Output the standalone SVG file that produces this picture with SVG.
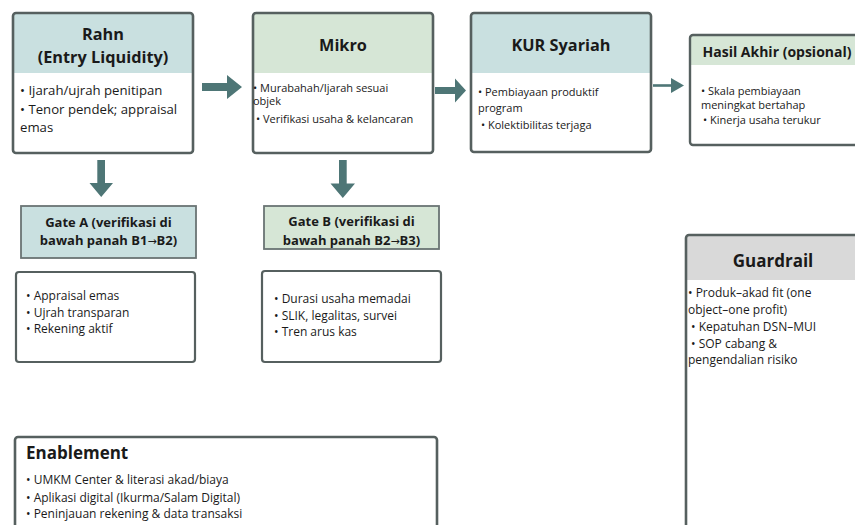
<svg xmlns="http://www.w3.org/2000/svg" width="855" height="525" viewBox="0 0 855 525">
<defs>
<style>
text{font-family:"Open Sans","Noto Sans","Liberation Sans",sans-serif;fill:#1a1a1a}
.box{fill:#ffffff;stroke:#56605f;stroke-width:2.6}
.sbox{fill:#ffffff;stroke:#56605f;stroke-width:2.2}
.hteal{fill:#c9e0e0}
.hgreen{fill:#d6e6d6}
.hgrey{fill:#d9d9d9}
.t{font-weight:bold;font-size:16.3px;text-anchor:middle}
.tl{font-weight:bold;font-size:17px}
.g{font-weight:bold;font-size:13px;text-anchor:middle}
.ar{font-family:"DejaVu Sans",sans-serif;font-weight:normal;font-size:11px}
.b13{font-size:13.2px}
.b12{font-size:12px}
.b11{font-size:11px}
.arr{fill:#4e7676}
</style>
</defs>

<g id="rahn">
<rect x="13" y="13" width="180" height="140" rx="3" class="hteal"/>
<rect x="13" y="73" width="180" height="80" fill="#ffffff"/>
<rect x="13" y="13" width="180" height="140" rx="3" fill="none" stroke="#56605f" stroke-width="2.6"/>
<text class="t" x="103" y="40">Rahn</text>
<text class="t" x="103" y="63">(Entry Liquidity)</text>
<text class="b13" x="20" y="95">• Ijarah/ujrah penitipan</text>
<text class="b13" x="20" y="113.5">• Tenor pendek; appraisal</text>
<text class="b13" x="20" y="132">emas</text>
</g>

<g id="mikro">
<rect x="253" y="13" width="180" height="140" rx="3" class="hgreen"/>
<rect x="253" y="73" width="180" height="80" fill="#ffffff"/>
<rect x="253" y="13" width="180" height="140" rx="3" fill="none" stroke="#56605f" stroke-width="2.6"/>
<text class="t" x="343" y="50.5">Mikro</text>
<text class="b11" x="253" y="91.5">• Murabahah/Ijarah sesuai</text>
<text class="b11" x="253" y="105">objek</text>
<text class="b11" x="256" y="123">• Verifikasi usaha &amp; kelancaran</text>
</g>

<g id="kur">
<rect x="471" y="13" width="180" height="139" rx="3" class="hteal"/>
<rect x="471" y="73" width="180" height="79" fill="#ffffff"/>
<rect x="471" y="13" width="180" height="139" rx="3" fill="none" stroke="#56605f" stroke-width="2.6"/>
<text class="t" x="561" y="50.5">KUR Syariah</text>
<text class="b11" x="478" y="95.5">• Pembiayaan produktif</text>
<text class="b11" x="478" y="111.5">program</text>
<text class="b11" x="481" y="129">• Kolektibilitas terjaga</text>
</g>

<g id="hasil">
<rect x="690" y="35" width="190" height="110" rx="3" class="hgreen"/>
<rect x="690" y="65" width="190" height="80" fill="#ffffff"/>
<rect x="690" y="35" width="190" height="110" rx="3" fill="none" stroke="#56605f" stroke-width="2.4"/>
<text x="777" y="57" font-weight="bold" font-size="14" text-anchor="middle">Hasil Akhir (opsional)</text>
<text class="b11" x="701" y="95">• Skala pembiayaan</text>
<text class="b11" x="701" y="108.5">meningkat bertahap</text>
<text class="b11" x="703" y="123.5">• Kinerja usaha terukur</text>
</g>

<g id="gateA">
<rect x="21" y="206" width="175" height="52" class="hteal" stroke="#6a7474" stroke-width="1.8"/>
<text class="g" x="108.5" y="226.5">Gate A (verifikasi di</text>
<text class="g" x="108.5" y="245">bawah panah B1<tspan class="ar">→</tspan>B2)</text>
</g>

<g id="gateA-list">
<rect x="16" y="272" width="179" height="90" rx="3" class="sbox"/>
<text class="b12" x="26" y="300">• Appraisal emas</text>
<text class="b12" x="26" y="316.7">• Ujrah transparan</text>
<text class="b12" x="26" y="333.3">• Rekening aktif</text>
</g>

<g id="gateB">
<rect x="264" y="206" width="175" height="43" class="hgreen" stroke="#6a7474" stroke-width="1.8"/>
<text class="g" x="351.5" y="226">Gate B (verifikasi di</text>
<text class="g" x="351.5" y="245">bawah panah B2<tspan class="ar">→</tspan>B3)</text>
</g>

<g id="gateB-list">
<rect x="262" y="271" width="179" height="91" rx="3" class="sbox"/>
<text class="b12" x="274" y="302.7">• Durasi usaha memadai</text>
<text class="b12" x="274" y="319.5">• SLIK, legalitas, survei</text>
<text class="b12" x="274" y="336">• Tren arus kas</text>
</g>

<g id="guardrail">
<rect x="686" y="235" width="176" height="310" rx="3" class="hgrey"/>
<rect x="686" y="280" width="176" height="265" fill="#ffffff"/>
<rect x="686" y="235" width="176" height="310" rx="3" fill="none" stroke="#56605f" stroke-width="2.6"/>
<text x="773" y="266.7" font-weight="bold" font-size="17" text-anchor="middle">Guardrail</text>
<text class="b12" x="688" y="296.7">• Produk–akad fit (one</text>
<text class="b12" x="688" y="314">object–one profit)</text>
<text class="b12" x="691" y="331">• Kepatuhan DSN–MUI</text>
<text class="b12" x="691" y="347.7">• SOP cabang &amp;</text>
<text class="b12" x="688" y="364.3">pengendalian risiko</text>
</g>

<g id="enablement">
<rect x="15" y="437" width="422" height="110" rx="3" class="box"/>
<text class="tl" x="26" y="459.3">Enablement</text>
<text class="b12" x="26" y="484">• UMKM Center &amp; literasi akad/biaya</text>
<text class="b12" x="26" y="501.5">• Aplikasi digital (Ikurma/Salam Digital)</text>
<text class="b12" x="26" y="518.3">• Peninjauan rekening &amp; data transaksi</text>
</g>

<g id="connectors">
<polygon class="arr" points="202,83 227,83 227,75 242,87 227,99 227,91 202,91"/>
<polygon class="arr" points="435,87 455,87 455,78.5 466,90.5 455,102.5 455,94 435,94"/>
<line x1="653" y1="85.5" x2="673" y2="85.5" stroke="#4e7676" stroke-width="2.6"/>
<polygon class="arr" points="671,78 684,85.5 671,93"/>
<polygon class="arr" points="97.3,160 105,160 105,183 113,183 101.2,197 89.5,183 97.3,183"/>
<polygon class="arr" points="339,160 346.7,160 346.7,183.5 355,183.5 342.8,198 330.5,183.5 339,183.5"/>
</g>
</svg>
